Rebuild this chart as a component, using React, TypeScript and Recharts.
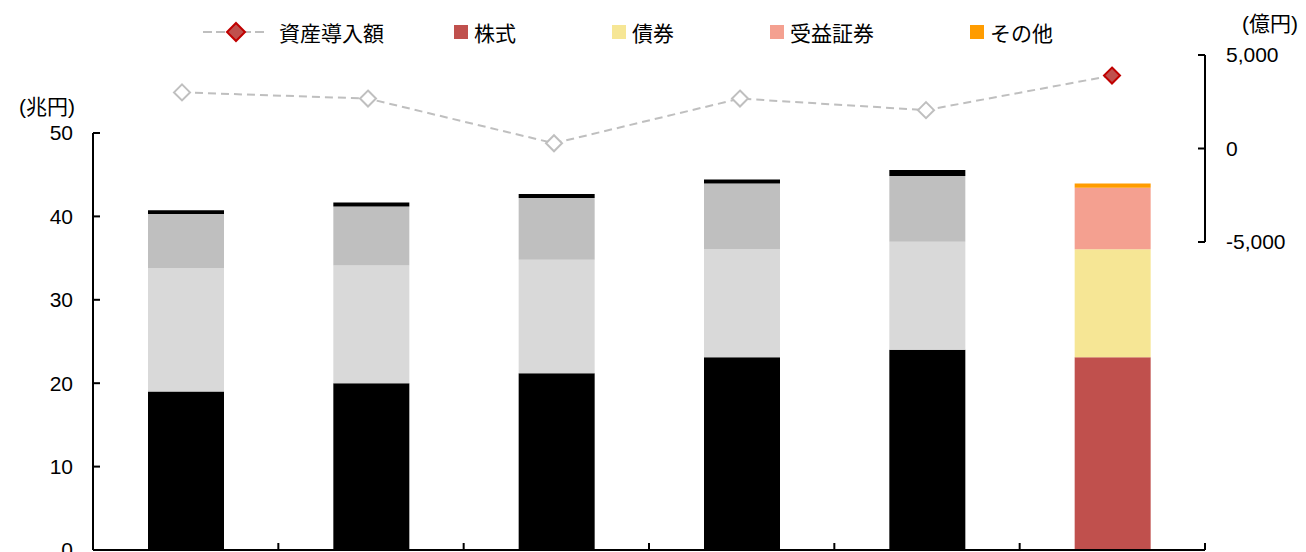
import React from 'react'
import { BarChart, Bar, LineChart, Line, XAxis, YAxis, Cell } from 'recharts'

// 残高の内訳（兆円）と資産導入額（億円）
const categories = ['1', '2', '3', '4', '5', '6']
const stocks = [19.0, 20.0, 21.2, 23.1, 24.0, 23.1]
const bonds = [14.8, 14.1, 13.6, 12.95, 12.95, 12.95]
const trusts = [6.5, 7.1, 7.4, 7.9, 7.9, 7.4]
const others = [0.43, 0.48, 0.48, 0.48, 0.72, 0.48]
const inflow = [3000, 2670, 280, 2670, 2050, 3900]

const leftTicks = [0, 10, 20, 30, 40, 50]
const rightTicks = [-5000, 0, 5000]
const frameTicks = [0, 1, 2, 3, 4, 5, 6]

const lineName = '資産導入額'
const barSeries = [
  { key: 'stocks', name: '株式', color: '#c0504d', past: '#000000' },
  { key: 'bonds', name: '債券', color: '#f6e695', past: '#d9d9d9' },
  { key: 'trusts', name: '受益証券', color: '#f4a090', past: '#bfbfbf' },
  { key: 'others', name: 'その他', color: '#ff9c00', past: '#000000' },
]

const HI = categories.length - 1

// bars sit in the middle of each category slot on a numeric axis so the
// axis ticks can fall on the slot boundaries, like the original
const barData = categories.map((name, i) => ({
  name,
  slot: i + 0.5,
  stocks: stocks[i],
  bonds: bonds[i],
  trusts: trusts[i],
  others: others[i],
}))
const lineData = categories.map((name, i) => ({ name, inflow: inflow[i] }))

const FONT = '"Liberation Sans", Arial, "Noto Sans CJK JP", sans-serif'
const tickStyle = { fill: '#000', fontSize: 21 }
const axisStroke = { stroke: '#000', strokeWidth: 2 }
const legendLeft = [203, 454, 612, 770, 970]

const Diamond = (props: any) => {
  const { cx, cy, index } = props
  if (cx == null || cy == null) return null
  const r = 8
  const hi = index === HI
  return (
    <path
      key={`d-${index}`}
      d={`M${cx},${cy - r}L${cx + r},${cy}L${cx},${cy + r}L${cx - r},${cy}Z`}
      fill={hi ? '#c0504d' : '#ffffff'}
      stroke={hi ? '#c00000' : '#bfbfbf'}
      strokeWidth={2}
    />
  )
}

function LegendRow() {
  const itemStyle: React.CSSProperties = {
    position: 'absolute', top: 20, height: 24, display: 'flex',
    alignItems: 'center', fontSize: 21, color: '#000', whiteSpace: 'nowrap',
  }
  return (
    <>
      <div style={{ ...itemStyle, left: legendLeft[0] }}>
        <svg width={64} height={24} style={{ marginRight: 12 }}>
          <line x1={0} y1={12} x2={64} y2={12} stroke="#bfbfbf" strokeWidth={2} strokeDasharray="9 4" />
          <path d="M33,3L42,12L33,21L24,12Z" fill="#c0504d" stroke="#c00000" strokeWidth={2} />
        </svg>
        {lineName}
      </div>
      {barSeries.map((s, i) => (
        <div key={s.key} style={{ ...itemStyle, left: legendLeft[i + 1] }}>
          <span style={{ width: 14, height: 14, background: s.color, display: 'inline-block', marginRight: 6 }} />
          {s.name}
        </div>
      ))}
    </>
  )
}

export default function App() {
  return (
    <div style={{ position: 'absolute', top: 0, left: 0, width: 1306, height: 552, fontFamily: FONT, background: '#fff' }}>
      <div style={{ position: 'absolute', top: 0, left: 0 }}>
        <BarChart width={1306} height={552} data={barData} margin={{ top: 133, right: 101, bottom: 0, left: 0 }}>
          <XAxis
            dataKey="slot" type="number" domain={[0, 6]} ticks={frameTicks} allowDataOverflow
            height={2} tickSize={-7} tickFormatter={() => ''} interval={0}
            axisLine={axisStroke} tickLine={axisStroke}
          />
          <YAxis
            width={93} domain={[0, 50]} ticks={leftTicks} allowDataOverflow interval={0}
            tickSize={-7} tickMargin={27} tick={tickStyle}
            axisLine={axisStroke} tickLine={axisStroke}
          />
          {barSeries.map(s => (
            <Bar key={s.key} dataKey={s.key} name={s.name} stackId="a"
              barSize={76} fill={s.color} isAnimationActive={false}>
              {barData.map((d, i) => (
                <Cell key={d.name} fill={i === HI ? s.color : s.past} />
              ))}
            </Bar>
          ))}
        </BarChart>
      </div>
      <div style={{ position: 'absolute', top: 0, left: 0 }}>
        <LineChart width={1306} height={260} data={lineData} margin={{ top: 55, right: 0, bottom: 18, left: 89 }}>
          <XAxis dataKey="name" type="category" hide padding={{ left: 93, right: 93 }} />
          <YAxis
            orientation="right" width={101} domain={[-5000, 5000]} ticks={rightTicks} allowDataOverflow interval={0}
            tickSize={-7} tickMargin={28} tick={tickStyle}
            tickFormatter={(v: number) => v.toLocaleString('en-US')}
            axisLine={axisStroke} tickLine={axisStroke}
          />
          <Line type="linear" dataKey="inflow" name={lineName} stroke="#bfbfbf" strokeWidth={2}
            strokeDasharray="8 5" dot={Diamond} activeDot={false} isAnimationActive={false} />
        </LineChart>
      </div>
      <LegendRow />
      <div style={{ position: 'absolute', left: 0, width: 75, top: 95, textAlign: 'right', fontSize: 21, lineHeight: '24px' }}>(兆円)</div>
      <div style={{ position: 'absolute', left: 1242, top: 12, fontSize: 21, lineHeight: '24px' }}>(億円)</div>
    </div>
  )
}
